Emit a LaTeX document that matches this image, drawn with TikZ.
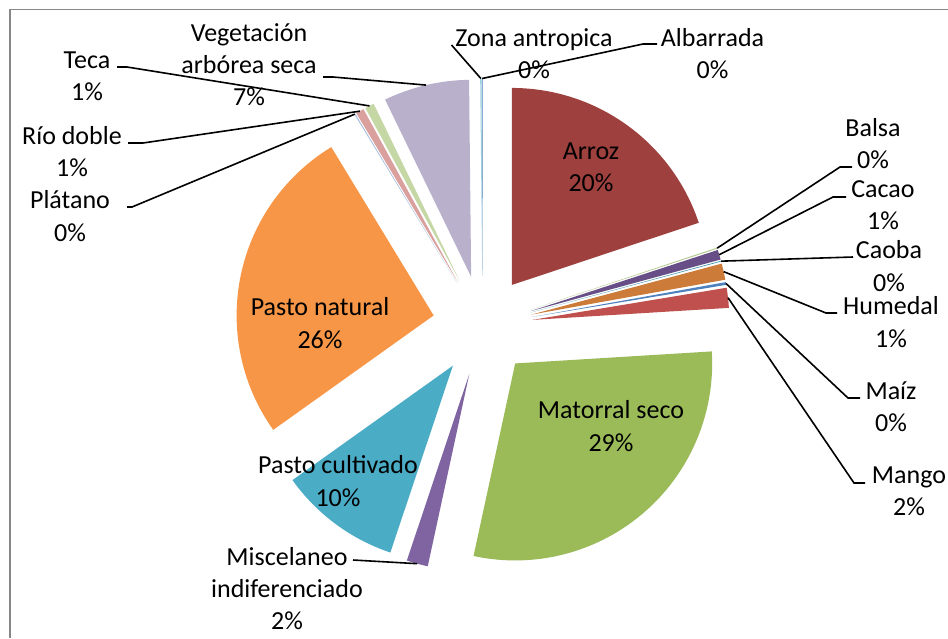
\documentclass[tikz,border=0pt]{standalone}
\usepackage{fontspec}
\setmainfont{Carlito}
\usetikzlibrary{calc}
\definecolor{cArroz}{HTML}{9D403E}
\definecolor{cBalsa}{HTML}{AFC78A}
\definecolor{cCacao}{HTML}{684E86}
\definecolor{cCaoba}{HTML}{3891A7}
\definecolor{cHumedal}{HTML}{CD7B38}
\definecolor{cMaiz}{HTML}{4F81BD}
\definecolor{cMango}{HTML}{C0504D}
\definecolor{cMatorral}{HTML}{9BBB59}
\definecolor{cMisc}{HTML}{8064A2}
\definecolor{cPcult}{HTML}{4BACC6}
\definecolor{cPnat}{HTML}{F79646}
\definecolor{cPlatano}{HTML}{A7C0DE}
\definecolor{cRio}{HTML}{D9A09E}
\definecolor{cTeca}{HTML}{C4D7A4}
\definecolor{cVeg}{HTML}{B9B0CC}
\definecolor{cZona}{HTML}{9DD0E0}
\definecolor{cAlba}{HTML}{4F81BD}
\definecolor{frame}{HTML}{878787}
\newcommand\pieslice[4]{%
  \pgfmathsetmacro\pmid{(#2+#3)/2}%
  \fill[#1] ($(C)+(\pmid:50)$) -- ++(#2:197) arc[start angle=#2, end angle=#3, radius=197] -- cycle;
  \coordinate (#4) at ($(C)+(\pmid:247)$);
}
\tikzset{
  lab/.style={align=center, inner sep=0pt, font=\fontsize{26}{32.2}\selectfont},
  leader/.style={draw=black, line width=1.6pt}
}
\begin{document}
\begin{tikzpicture}[x=1pt,y=1pt]
\useasboundingbox (0,0) rectangle (948,-638);
\fill[white] (0,0) rectangle (948,-638);
\draw[frame, line width=1.5pt] (10,-638) -- (10,-9.3) -- (948,-9.3);
\coordinate (C) at (482.6,-325.5);
% slices (clockwise from top)
\pieslice{cAlba}{90.2}{90.0}{sAlba}
\pieslice{cArroz}{90.0}{18.4}{sArroz}
\pieslice{cBalsa}{18.4}{18.1}{sBalsa}
\pieslice{cCacao}{18.1}{15.2}{sCacao}
\pieslice{cCaoba}{15.2}{15.0}{sCaoba}
\pieslice{cHumedal}{15.0}{10.2}{sHumedal}
\pieslice{cMaiz}{10.2}{9.4}{sMaiz}
\pieslice{cMango}{9.4}{3.5}{sMango}
\pieslice{cMatorral}{3.5}{-102.2}{sMatorral}
\pieslice{cMisc}{-102.2}{-108.5}{sMisc}
\pieslice{cPcult}{-108.5}{-144.5}{sPcult}
\pieslice{cPnat}{-144.5}{-238.7}{sPnat}
\pieslice{cPlatano}{121.3}{121.0}{sPlatano}
\pieslice{cRio}{121.0}{118.6}{sRio}
\pieslice{cTeca}{118.6}{115.9}{sTeca}
\pieslice{cVeg}{115.9}{90.6}{sVeg}
\pieslice{cZona}{90.6}{90.2}{sZona}
% inside labels
\node[lab] (lArroz) at (591,-167.5) {Arroz\\20\%};
\node[lab] (lMatorral) at (611,-426) {Matorral seco\\29\%};
\node[lab] (lPcult) at (338,-481) {Pasto cultivado\\10\%};
\node[lab] (lPnat) at (320,-323) {Pasto natural\\26\%};
% outside labels
\node[lab] (lVeg) at (249,-64.5) {Vegetación\\arbórea seca\\7\%};
\node[lab] (lTeca) at (87,-76.5) {Teca\\1\%};
\node[lab] (lRio) at (72,-151.5) {Río doble\\1\%};
\node[lab] (lPlatano) at (70,-216) {Plátano\\0\%};
\node[lab] (lZona) at (534,-53.5) {Zona antropica\\0\%};
\node[lab] (lAlba) at (712.5,-53.5) {Albarrada\\0\%};
\node[lab] (lBalsa) at (873,-143.5) {Balsa\\0\%};
\node[lab] (lCacao) at (883,-205.5) {Cacao\\1\%};
\node[lab] (lCaoba) at (889,-266) {Caoba\\0\%};
\node[lab] (lHumedal) at (891,-322) {Humedal\\1\%};
\node[lab] (lMaiz) at (891,-406.5) {Maíz\\0\%};
\node[lab] (lMango) at (909,-491.5) {Mango\\2\%};
\node[lab] (lMisc) at (287,-588.5) {Miscelaneo\\indiferenciado\\2\%};
% leader start points
\coordinate (tVeg) at (323,-77);   \coordinate (bVeg) at (333,-77);
\coordinate (tTeca) at (117,-67);  \coordinate (bTeca) at (127,-67);
\coordinate (tRio) at (128,-143);  \coordinate (bRio) at (143,-143);
\coordinate (tPlatano) at (127,-207); \coordinate (bPlatano) at (132,-207);
\coordinate (tZona) at (451.5,-45);
\coordinate (tAlba) at (657,-44);  \coordinate (bAlba) at (643,-44);
\coordinate (tBalsa) at (852,-167); \coordinate (bBalsa) at (840,-167);
\coordinate (tCacao) at (846,-197); \coordinate (bCacao) at (833,-197);
\coordinate (tCaoba) at (853,-257);
\coordinate (tHumedal) at (837,-313); \coordinate (bHumedal) at (826,-313);
\coordinate (tMaiz) at (860,-398); \coordinate (bMaiz) at (848,-398);
\coordinate (tMango) at (865,-483); \coordinate (bMango) at (854,-483);
\coordinate (tMisc) at (353,-560);
% leaders
\draw[leader] (tVeg) -- (bVeg) -- (sVeg);
\draw[leader] (tTeca) -- (bTeca) -- (sTeca);
\draw[leader] (tRio) -- (bRio) -- (sRio);
\draw[leader] (tPlatano) -- (bPlatano) -- (sPlatano);
\draw[leader] (tZona) -- (sZona);
\draw[leader] (tAlba) -- (bAlba) -- (sAlba);
\draw[leader] (tBalsa) -- (bBalsa) -- (sBalsa);
\draw[leader] (tCacao) -- (bCacao) -- (sCacao);
\draw[leader] (tCaoba) -- (sCaoba);
\draw[leader] (tHumedal) -- (bHumedal) -- (sHumedal);
\draw[leader] (tMaiz) -- (bMaiz) -- (sMaiz);
\draw[leader] (tMango) -- (bMango) -- (sMango);
\draw[leader] (tMisc) -- (sMisc);
\end{tikzpicture}
\end{document}
